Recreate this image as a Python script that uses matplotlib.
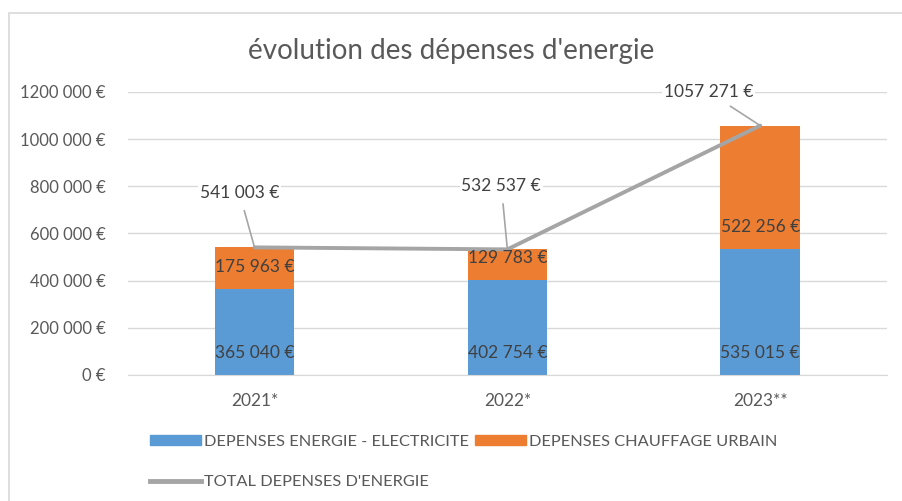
import matplotlib.pyplot as plt
from matplotlib.lines import Line2D
from matplotlib.patches import Patch, Rectangle

plt.rcParams['font.family'] = ['Lato', 'DejaVu Sans']

years = ['2021*', '2022*', '2023**']
electricite = [365040, 402754, 535015]
chauffage = [175963, 129783, 522256]
total = [541003, 532537, 1057271]

elec_labels = ['365 040 €', '402 754 €', '535 015 €']
chauf_labels = ['175 963 €', '129 783 €', '522 256 €']
total_labels = ['541 003 €', '532 537 €', '1057 271 €']

yticks = [0, 200000, 400000, 600000, 800000, 1000000, 1200000]
ytick_labels = ['0 €', '200 000 €', '400 000 €', '600 000 €', '800 000 €',
                '1000 000 €', '1200 000 €']

blue = '#5B9BD5'
orange = '#ED7D31'
grey = '#A5A5A5'
txt = '#595959'
dark = '#404040'

fig = plt.figure(figsize=(9.02, 5.01), dpi=100)
ax = fig.add_axes([0.142, 0.2515, 0.841, 0.565])

# chart border
fig.patches.append(Rectangle((0.010, -0.1), 1.2, 1.074, transform=fig.transFigure,
                             fill=False, edgecolor='#D9D9D9', lw=1.2))

x = range(len(years))
w = 0.315
ax.bar(x, electricite, w, color=blue, zorder=2)
ax.bar(x, chauffage, w, bottom=electricite, color=orange, zorder=2)
ax.plot(x, total, color=grey, lw=2.8, zorder=3, solid_capstyle='round')

for i in x:
    ax.annotate(elec_labels[i], (i, 0), xytext=(0, 16), textcoords='offset points',
                ha='center', va='center', fontsize=12.5, color=dark, zorder=4)
    ax.annotate(chauf_labels[i], (i, electricite[i]), xytext=(0, 16),
                textcoords='offset points', ha='center', va='center',
                fontsize=12.5, color=dark, zorder=4)

# total labels with leader lines
tpos = [(-0.06, 772000), (-0.024, 802000), (-0.205, 1200000)]
for i in x:
    dx, ty = tpos[i]
    ax.annotate(total_labels[i], (i, total[i]), xytext=(i + dx, ty),
                ha='center', va='center', fontsize=12.5, color=dark, zorder=5,
                bbox=dict(boxstyle='square,pad=0.1', fc='white', ec='none'),
                arrowprops=dict(arrowstyle='-', color=grey, lw=1.2,
                                shrinkA=6, shrinkB=0))

ax.set_xlim(-0.5, 2.5)
ax.set_ylim(0, 1200000)
ax.set_yticks(yticks)
ax.set_yticklabels(ytick_labels)
ax.set_xticks(list(x))
ax.set_xticklabels(years)
ax.tick_params(axis='both', length=0, labelsize=12, colors=txt)
ax.tick_params(axis='x', pad=13, labelsize=12.5)
ax.tick_params(axis='y', pad=16)
ax.grid(axis='y', color='#D9D9D9', lw=1, zorder=0)
ax.set_axisbelow(True)
for s in ['top', 'right', 'left']:
    ax.spines[s].set_visible(False)
ax.spines['bottom'].set_color('#D9D9D9')

fig.text(0.5, 0.898, "évolution des dépenses d'energie", ha='center', va='center',
         fontsize=20, color=txt)

handles = [Patch(color=blue), Line2D([], [], color=grey, lw=3.5), Patch(color=orange)]
labels = ['DEPENSES ENERGIE - ELECTRICITE', "TOTAL DEPENSES D'ENERGIE",
          'DEPENSES CHAUFFAGE URBAIN']
leg = fig.legend(handles, labels, ncol=2, loc='upper left', bbox_to_anchor=(0.166, 0.132),
                 frameon=False, fontsize=11.8, handlelength=3.1, handleheight=0.6,
                 columnspacing=0.4, handletextpad=0.2, labelspacing=1.6,
                 borderaxespad=0, borderpad=0)
for t in leg.get_texts():
    t.set_color(txt)

fig.savefig('out.png', dpi=100)
